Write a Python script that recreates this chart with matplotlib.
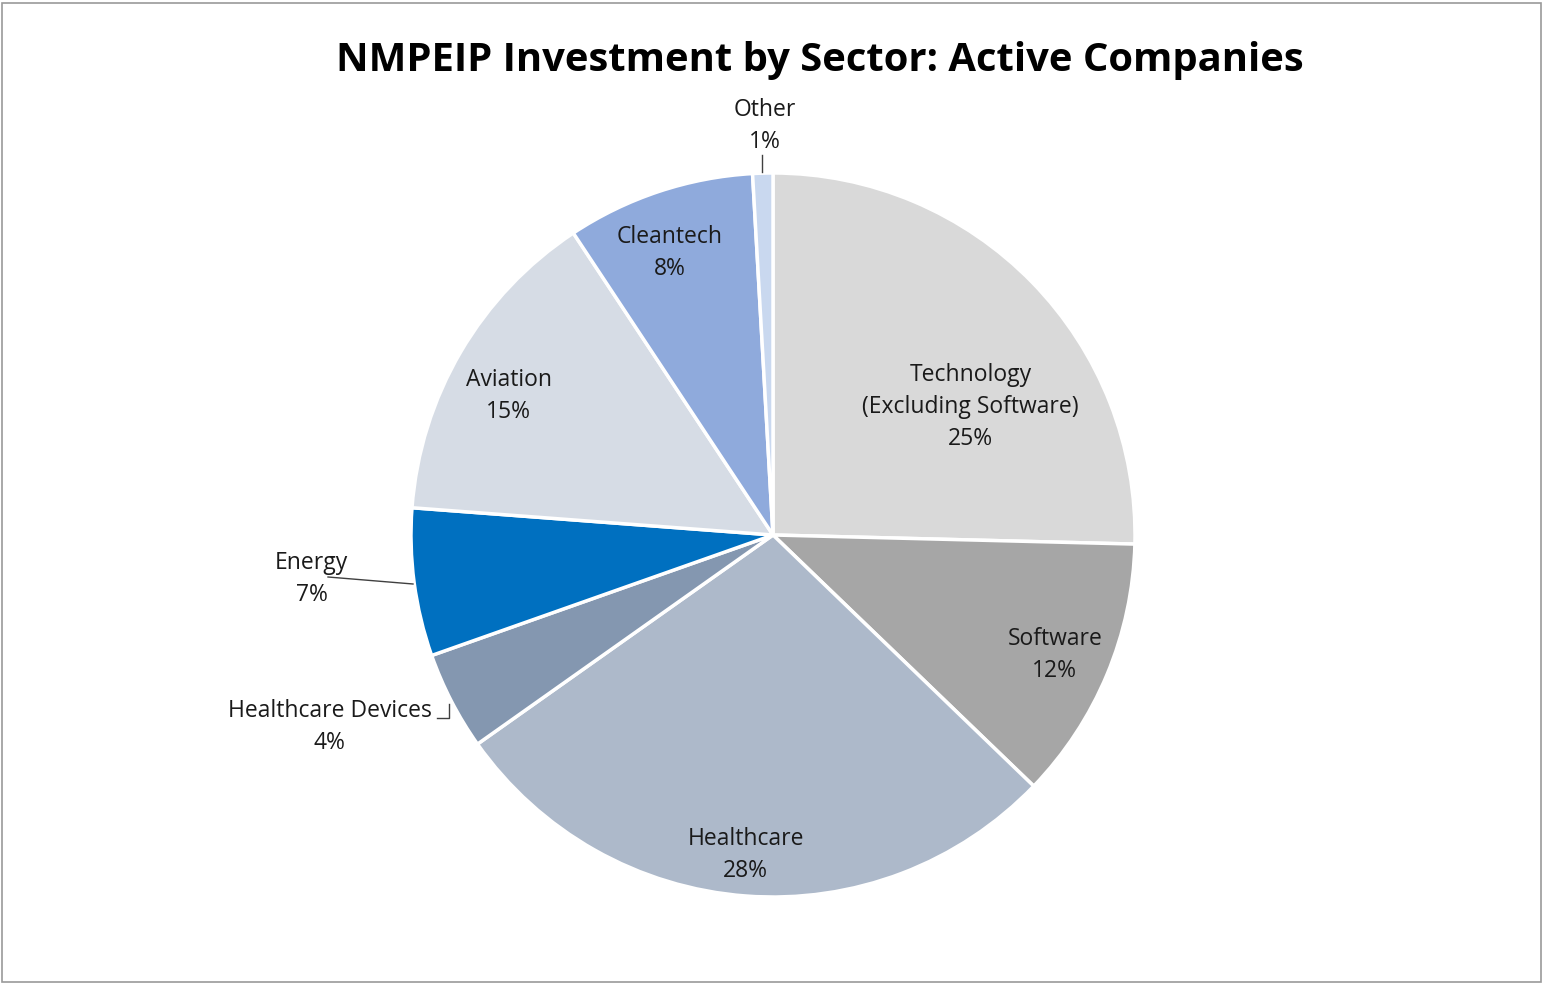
import matplotlib
matplotlib.use("Agg")
import matplotlib.pyplot as plt
import numpy as np
from matplotlib.patches import Rectangle

sectors = ["Technology\n(Excluding Software)", "Software", "Healthcare",
           "Healthcare Devices", "Energy", "Aviation", "Cleantech", "Other"]
values = [25.4, 11.8, 28.0, 4.4, 6.6, 14.5, 8.4, 0.9]
pct_labels = ["25%", "12%", "28%", "4%", "7%", "15%", "8%", "1%"]
colors = ["#D9D9D9", "#A6A6A6", "#ADB9CA", "#8497B0", "#0070C0",
          "#D6DCE5", "#8FAADC", "#C9D8EF"]
title = "NMPEIP Investment by Sector: Active Companies"

W, H = 1543, 984
fig = plt.figure(figsize=(W / 100, H / 100), dpi=100)
ax = fig.add_axes([0, 0, 1, 1])

cx, cy, R = 773, H - 535, 362
wedges, _ = ax.pie(values, colors=colors, startangle=90, counterclock=False,
                   center=(cx, cy), radius=R, frame=True,
                   wedgeprops=dict(edgecolor="white", linewidth=2.5))
ax.set_xlim(0, W)
ax.set_ylim(0, H)
ax.set_aspect("equal")
ax.axis("off")

font = "Open Sans"
# label placement: (angle in degrees, distance from centre in px) - layout only
label_pos = [(33.6, 237), (-22.5, 305), (-94.9, 318), (-156.9, 482),
             (-174.9, 463), (151.7, 300), (109.9, 303), (91.1, 412)]
for name, pct, (ang, dist) in zip(sectors, pct_labels, label_pos):
    a = np.deg2rad(ang)
    x = cx + dist * np.cos(a)
    y = cy + dist * np.sin(a) - 3
    ax.text(x, y, f"{name}\n{pct}", ha="center", va="center",
            fontsize=16.5, family=font, color="#1a1a1a", linespacing=1.45)

# leader lines
ax.plot([762, 762], [H - 155, H - 172], color="#404040", lw=1)
ax.plot([328, 413], [H - 577, H - 584], color="#404040", lw=1)
ax.plot([437, 449, 449], [H - 718, H - 718, H - 704], color="#404040", lw=1)

ax.text(820, H - 60, title, ha="center", va="center", fontsize=28.8,
        fontweight="bold", family=font, color="black")

fig.patches.append(Rectangle((2 / W, 2 / H), (W - 4) / W, (H - 5) / H,
                             transform=fig.transFigure, fill=False,
                             edgecolor="#9a9a9a", lw=1.2))

fig.savefig("out.png", dpi=100, facecolor="white")
